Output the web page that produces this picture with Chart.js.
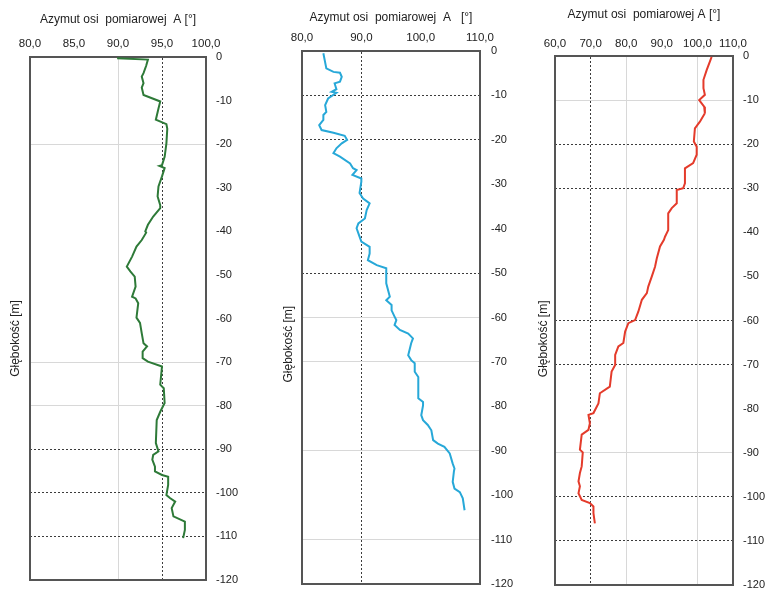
<!DOCTYPE html>
<html>
<head>
<meta charset="utf-8">
<script src="https://cdn.jsdelivr.net/npm/chart.js@4.4.1/dist/chart.umd.min.js"></script>
<style>
html,body{margin:0;padding:0;background:#fff;}
#wrap{position:relative;width:765px;height:590px;overflow:hidden;background:#fff;}
canvas{position:absolute;top:0;}
</style>
</head>
<body>
<div id="wrap">
<canvas id="c1" width="250" height="590" style="left:0px"></canvas>
<canvas id="c2" width="270" height="590" style="left:255px"></canvas>
<canvas id="c3" width="250" height="590" style="left:515px"></canvas>
</div>
<script>
// ---- data (depth in m, azimuth in degrees) ----
const depth1 = [0.3,0.6,2.0,3.7,4.5,6.0,7.0,8.7,10.2,11.8,14.4,15.4,16.5,19.8,22.9,24.8,25.0,25.5,27.4,29.7,32.0,34.0,34.7,36.6,38.5,40.0,40.3,42.0,43.5,45.8,48.1,49.2,50.4,52.7,55.0,55.4,56.5,59.8,61.0,63.4,65.7,66.4,67.6,69.1,69.9,71.0,75.2,76.0,79.4,81.4,83.3,88.6,90.5,91.3,92.4,94.0,95.1,95.9,96.3,98.2,100.5,101.2,102.0,103.5,105.4,106.6,108.5,110.4];
const azimuth1 = [89.9,93.4,93.2,92.9,92.7,92.9,92.7,92.9,94.8,94.6,94.3,95.5,95.6,95.5,95.3,95.0,94.7,95.3,95.0,94.6,94.5,94.8,94.8,94.0,93.4,93.1,93.2,92.7,92.1,91.6,91.0,91.4,91.9,92.0,91.6,92.0,92.3,92.1,92.5,92.7,92.9,93.3,92.8,92.8,93.4,95.0,94.8,95.2,95.3,94.8,94.4,94.3,94.6,94.0,93.9,94.2,94.2,95.0,95.7,95.7,95.5,95.9,96.5,96.1,96.3,97.6,97.6,97.4];

const depth2 = [0.5,3.9,4.7,4.9,5.8,6.9,7.3,8.6,9.2,9.4,10.7,12.2,13.7,14.4,15.5,16.7,17.8,18.4,19.1,20.0,20.8,21.9,23.0,23.8,25.3,26.4,26.8,27.9,28.7,29.4,32.0,33.2,34.3,35.8,37.7,38.8,39.9,41.8,42.9,44.1,45.6,47.1,48.2,48.9,52.3,55.3,56.1,57.2,58.4,59.8,60.6,61.7,62.8,63.6,64.7,65.8,68.5,69.6,70.3,72.2,73.4,77.1,78.2,79.0,79.8,82.0,83.1,84.2,85.4,87.6,88.4,89.1,90.6,92.9,94.0,94.7,97.0,98.5,99.3,100.7,103.4];
const azimuth2 = [83.6,84.1,85.3,86.4,86.7,86.4,85.5,85.8,85.0,85.8,84.4,83.9,84.1,83.6,83.6,82.9,83.3,85.3,87.2,87.6,86.7,85.8,85.3,86.4,88.1,88.6,89.2,88.5,90.0,90.0,89.7,90.3,91.4,90.9,90.6,89.5,89.2,89.7,90.0,91.4,91.4,91.1,92.6,94.2,94.2,94.8,94.2,95.1,95.1,95.6,95.9,95.6,96.5,97.9,98.7,98.4,97.9,98.4,99.0,99.0,99.6,99.6,99.6,100.4,100.4,100.1,100.4,101.2,101.8,102.1,102.9,104.0,104.9,105.4,105.7,105.6,105.4,105.7,106.6,107.1,107.4];

const depth3 = [0.2,3.2,5.4,7.3,8.8,10.0,11.5,13.0,14.9,16.4,19.4,20.6,22.4,24.3,25.5,28.9,30.0,30.4,33.4,34.5,35.7,39.5,41.0,41.7,43.2,45.9,47.8,50.0,52.3,53.8,55.3,58.0,59.9,60.6,62.5,65.1,65.9,67.8,70.1,71.6,75.0,76.5,78.8,81.0,81.4,83.3,84.8,85.9,89.3,89.9,93.1,94.6,96.5,97.6,99.2,100.7,101.4,102.2,103.7,106.0];
const azimuth3 = [104.0,102.6,101.7,101.7,102.1,100.5,101.9,102.1,100.7,99.3,99.0,99.8,99.8,98.8,96.5,96.5,96.0,94.2,94.2,92.8,91.8,91.8,90.9,90.6,89.5,88.6,88.1,87.2,86.2,85.8,84.4,83.4,82.5,80.6,79.7,79.2,77.8,76.9,76.9,75.9,75.4,72.6,72.2,70.8,69.4,69.8,69.4,67.5,67.0,67.8,67.5,67.0,66.6,67.0,66.6,67.5,69.8,70.8,70.8,71.2];

// ---- tick labels ----
const depthTickLabels = ['0','-10','-20','-30','-40','-50','-60','-70','-80','-90','-100','-110','-120'];
const xTickLabels1 = ['80,0','85,0','90,0','95,0','100,0'];
const xTickLabels2 = ['80,0','90,0','100,0','110,0'];
const xTickLabels3 = ['60,0','70,0','80,0','90,0','100,0','110,0'];

const xTitle1 = 'Azymut osi  pomiarowej  A [\u00B0]';
const xTitle2 = 'Azymut osi  pomiarowej  A   [\u00B0]';
const xTitle3 = 'Azymut osi  pomiarowej A [\u00B0]';
const yTitle = 'G\u0142\u0119boko\u015B\u0107 [m]';

const FONT_FAMILY = "'Liberation Sans', Arial, Helvetica, sans-serif";
const TXT = '#222';
const FRAME = '#555';
const DARK = '#3c3c3c';
const LIGHT = '#d8d8d8';

function gridColor(dark, light) {
  return ctx => {
    const v = ctx.tick ? ctx.tick.value : null;
    if (dark.includes(v)) return DARK;
    if (light.includes(v)) return LIGHT;
    return 'rgba(0,0,0,0)';
  };
}
function gridDash(dark) {
  return ctx => (ctx.tick && dark.includes(ctx.tick.value)) ? [2, 2] : [];
}
function noPad(s) { s.paddingTop = 0; s.paddingBottom = 0; s.paddingLeft = 0; s.paddingRight = 0; }

function panel(id, p) {
  const data = p.depth.map((d, i) => ({x: p.az[i], y: -d}));
  new Chart(document.getElementById(id), {
    type: 'scatter',
    data: {datasets: [{
      data: data, showLine: true, borderColor: p.color, backgroundColor: p.color,
      borderWidth: 2, pointRadius: 0, tension: 0, xAxisID: 'x', yAxisID: 'y'
    }]},
    options: {
      responsive: false, animation: false,
      layout: {autoPadding: false, padding: {top: 0, left: 0, right: 0, bottom: p.bottomPad}},
      plugins: {legend: {display: false}, tooltip: {enabled: false}},
      scales: {
        x: {
          type: 'linear', position: 'top', min: p.xMin, max: p.xMax,
          ticks: {stepSize: p.xStep, autoSkip: false, maxRotation: 0, padding: p.xTickPad,
                  color: TXT, font: {family: FONT_FAMILY, size: 11.5},
                  callback: (v, i) => p.xLabels[i]},
          grid: {drawTicks: false, lineWidth: 1, color: gridColor(p.gx.dark, p.gx.light)},
          border: {display: true, color: FRAME, width: 2, dash: gridDash(p.gx.dark)},
          title: {display: true, text: p.xTitle, color: TXT, font: {family: FONT_FAMILY, size: 12},
                  padding: {top: p.xTitlePad, bottom: 0}},
          afterFit: s => { s.height = p.topH; noPad(s); }
        },
        xb: {
          type: 'linear', position: 'bottom', min: 0, max: 1,
          ticks: {display: false}, grid: {display: false},
          border: {display: true, color: FRAME, width: 2},
          afterFit: s => { s.height = 0; noPad(s); }
        },
        y: {
          type: 'linear', position: 'right', min: -120, max: 0,
          ticks: {stepSize: 10, autoSkip: false, padding: p.yTickPad, color: TXT,
                  font: {family: FONT_FAMILY, size: 11},
                  callback: v => depthTickLabels[Math.round(-v / 10)]},
          grid: {drawTicks: false, lineWidth: 1, color: gridColor(p.gy.dark, p.gy.light)},
          border: {display: true, color: FRAME, width: 2, dash: gridDash(p.gy.dark)},
          afterFit: s => { s.width = p.rightW; noPad(s); }
        },
        yl: {
          type: 'linear', position: 'left', min: -120, max: 0,
          ticks: {display: false}, grid: {display: false},
          border: {display: true, color: FRAME, width: 2},
          title: {display: true, text: yTitle + ' '.repeat(p.ySpaces), color: TXT,
                  font: {family: FONT_FAMILY, size: 12}, padding: {top: p.yTitlePad, bottom: 0}},
          afterFit: s => { s.width = p.leftW; noPad(s); }
        }
      }
    }
  });
}

panel('c1', {
  depth: depth1, az: azimuth1, color: '#2e7a38',
  xMin: 80, xMax: 100, xStep: 5, xLabels: xTickLabels1, xTitle: xTitle1,
  leftW: 30, rightW: 44, topH: 57, bottomPad: 10,
  xTitlePad: 12, xTickPad: 6, yTickPad: 10, yTitlePad: 8, ySpaces: 12,
  gx: {dark: [95], light: [90]},
  gy: {dark: [-90, -100, -110], light: [-20, -70, -80]}
});
panel('c2', {
  depth: depth2, az: azimuth2, color: '#27a8d8',
  xMin: 80, xMax: 110, xStep: 10, xLabels: xTickLabels2, xTitle: xTitle2,
  leftW: 47, rightW: 45, topH: 51, bottomPad: 6,
  xTitlePad: 10, xTickPad: 6, yTickPad: 11, yTitlePad: 26, ySpaces: 16,
  gx: {dark: [90], light: []},
  gy: {dark: [-10, -20, -50], light: [-60, -70, -90, -110]}
});
panel('c3', {
  depth: depth3, az: azimuth3, color: '#e43b2b',
  xMin: 60, xMax: 110, xStep: 10, xLabels: xTickLabels3, xTitle: xTitle3,
  leftW: 40, rightW: 32, topH: 56, bottomPad: 5,
  xTitlePad: 7, xTickPad: 5, yTickPad: 10, yTitlePad: 21, ySpaces: 11,
  gx: {dark: [70], light: [80, 100]},
  gy: {dark: [-20, -30, -60, -70, -100, -110], light: [-10, -90]}
});
</script>
</body>
</html>
